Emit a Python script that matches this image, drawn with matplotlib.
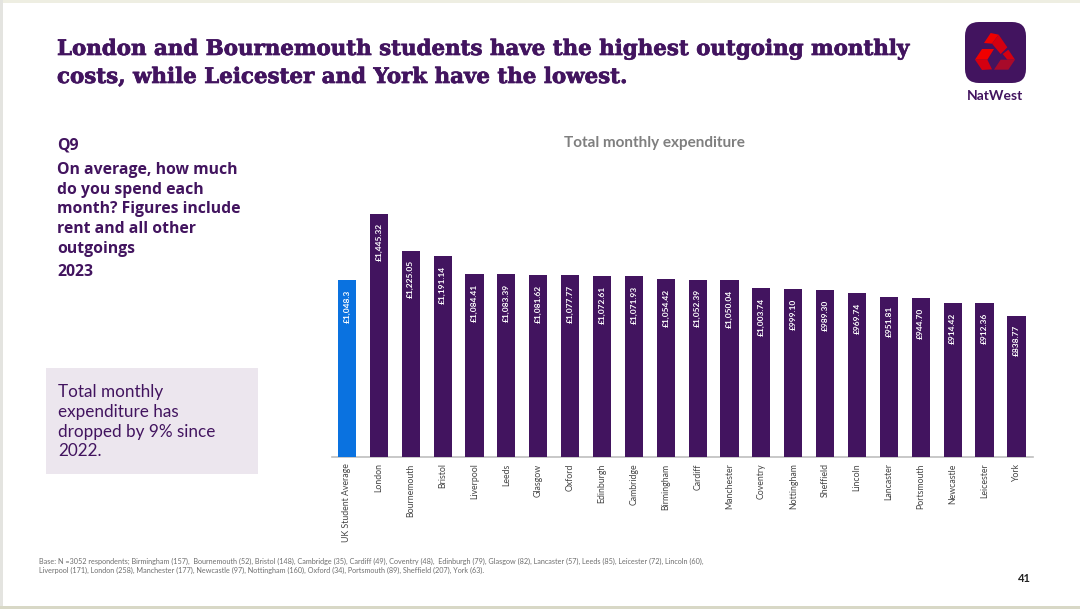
import matplotlib
matplotlib.use("Agg")
import matplotlib.pyplot as plt
import matplotlib.patheffects as pe
from matplotlib.patches import FancyBboxPatch, Polygon, Rectangle
from matplotlib.transforms import ScaledTranslation

# Data
cities = ["UK Student Average", "London", "Bournemouth", "Bristol", "Liverpool", "Leeds",
          "Glasgow", "Oxford", "Edinburgh", "Cambridge", "Birmingham", "Cardiff",
          "Manchester", "Coventry", "Nottingham", "Sheffield", "Lincoln", "Lancaster",
          "Portsmouth", "Newcastle", "Leicester", "York"]
spend = [1048.3, 1445.32, 1225.05, 1191.14, 1084.41, 1083.39, 1081.62, 1077.77, 1072.61,
         1071.93, 1054.42, 1052.39, 1050.04, 1003.74, 999.10, 989.30, 969.74, 951.81,
         944.70, 914.42, 912.36, 838.77]
spend_labels = ["£1,048.3", "£1,445.32", "£1,225.05", "£1,191.14", "£1,084.41", "£1,083.39",
                "£1,081.62", "£1,077.77", "£1,072.61", "£1,071.93", "£1,054.42", "£1,052.39",
                "£1,050.04", "£1,003.74", "£999.10", "£989.30", "£969.74", "£951.81",
                "£944.70", "£914.42", "£912.36", "£838.77"]

PURPLE = "#42145f"
BLUE = "#0a72e0"
GREY = "#7f7f7f"
W, H = 1080, 609

plt.rcParams["font.family"] = ["Lato", "DejaVu Sans"]

fig = plt.figure(figsize=(W / 100, H / 100), dpi=100, facecolor="white")

# slide furniture, in pixel coordinates
bg = fig.add_axes([0, 0, 1, 1])
bg.set_xlim(0, W)
bg.set_ylim(H, 0)
bg.axis("off")
bg.add_patch(Rectangle((0, 0), W, 3, color="#eeeee2", lw=0))
bg.add_patch(Rectangle((0, 0), 3, H, color="#e4e4e0", lw=0))
bg.add_patch(Rectangle((0, H - 3), W, 3, color="#d8d8c6", lw=0))

heavy = [pe.withStroke(linewidth=0.5, foreground=PURPLE)]
bg.text(57, 49, "London and Bournemouth students have the highest outgoing monthly",
        fontsize=15.38, fontweight="bold", family="DejaVu Serif", color=PURPLE, va="center",
        path_effects=heavy)
bg.text(57, 77, "costs, while Leicester and York have the lowest.",
        fontsize=15.38, fontweight="bold", family="DejaVu Serif", color=PURPLE, va="center",
        path_effects=heavy)

bg.text(57, 145, "Q9", fontsize=11.35, fontweight="bold", family="Open Sans", color=PURPLE, va="center")
question = ["On average, how much", "do you spend each", "month? Figures include",
            "rent and all other", "outgoings"]
for i, line in enumerate(question):
    bg.text(57, 170 + i * 19.7, line, fontsize=11.35, fontweight="bold", family="Open Sans",
            color=PURPLE, va="center")
bg.text(57, 271.5, "2023", fontsize=11.35, fontweight="bold", family="Open Sans", color=PURPLE, va="center")

bg.add_patch(Rectangle((46, 368), 212, 106, color="#ece6ee", lw=0))
callout = ["Total monthly", "expenditure has", "dropped by 9% since", "2022."]
for i, line in enumerate(callout):
    bg.text(58, 392.5 + i * 19.6, line, fontsize=12.3, color=PURPLE, va="center")

bg.text(654, 143, "Total monthly expenditure", fontsize=11, fontweight="bold",
        color=GREY, ha="center", va="center")

base = ["Base: N =3052 respondents; Birmingham (157),  Bournemouth (52), Bristol (148), Cambridge (35), "
        "Cardiff (49), Coventry (48),  Edinburgh (79), Glasgow (82), Lancaster (57), Leeds (85), "
        "Leicester (72), Lincoln (60),",
        "Liverpool (171), London (258), Manchester (177), Newcastle (97), Nottingham (160), "
        "Oxford (34), Portsmouth (89), Sheffield (207), York (63)."]
bg.text(39, 561, base[0], fontsize=5.2, color="#6f6f6f", va="center")
bg.text(39, 570, base[1], fontsize=5.2, color="#6f6f6f", va="center")
bg.text(1024, 579, "41", fontsize=8, fontweight="bold", color="#222222", ha="center", va="center")

# logo
bg.add_patch(FancyBboxPatch((973, 30), 45, 45, boxstyle="round,pad=8,rounding_size=14",
                            fc=PURPLE, ec="none"))
red_light, red_mid, red_dark = "#f00000", "#d40010", "#a80a2a"


def logo_face(pts, colour):
    # points measured on a 3x crop whose corner is at (970, 28)
    bg.add_patch(Polygon([(970 + a / 3, 28 + b / 3) for a, b in pts], fc=colour, ec="none"))


logo_face([(42, 45), (62, 15), (86, 20), (66, 47)], red_light)
logo_face([(86, 20), (112, 58), (92, 78), (66, 47)], red_mid)
logo_face([(15, 95), (36, 63), (72, 63), (52, 95)], red_light)
logo_face([(15, 95), (52, 95), (66, 124), (36, 126)], red_mid)
logo_face([(115, 65), (135, 95), (112, 95), (98, 78)], red_mid)
logo_face([(72, 125), (92, 95), (135, 95), (115, 125)], red_dark)
bg.text(995.5, 96, "NatWest", fontsize=10, fontweight="bold", color=PURPLE,
        ha="center", va="center")

# chart
ax = fig.add_axes([332 / W, 1 - 456.5 / H, (1033 - 332) / W, (456.5 - 200) / H])
ax.patch.set_alpha(0)
x = list(range(len(cities)))
colors = [BLUE] + [PURPLE] * (len(cities) - 1)
bars = ax.bar(x, spend, width=0.57, color=colors, edgecolor="none", zorder=3)
ax.set_xlim(-0.47, 21.52)
ax.set_ylim(0, 1526)

for bar, label in zip(bars, spend_labels):
    ax.annotate(label, (bar.get_x() + bar.get_width() / 2, bar.get_height()),
                xytext=(0, -7), textcoords="offset points", rotation=90,
                ha="center", va="top", fontsize=6, fontweight="bold", color="white")

ax.set_xticks(x)
ax.set_xticklabels(cities, rotation=90, fontsize=6.3, color="#444444")
shift = ScaledTranslation(1.5 / 100, 0, fig.dpi_scale_trans)
for tick_label in ax.get_xticklabels():
    tick_label.set_transform(tick_label.get_transform() + shift)
ax.tick_params(axis="x", length=0, pad=5)
ax.set_yticks([])
for spine in ("top", "right", "left"):
    ax.spines[spine].set_visible(False)
ax.spines["bottom"].set_color("#bfbfbf")
ax.spines["bottom"].set_linewidth(1.2)

fig.savefig("out.png", dpi=100, facecolor="white")
